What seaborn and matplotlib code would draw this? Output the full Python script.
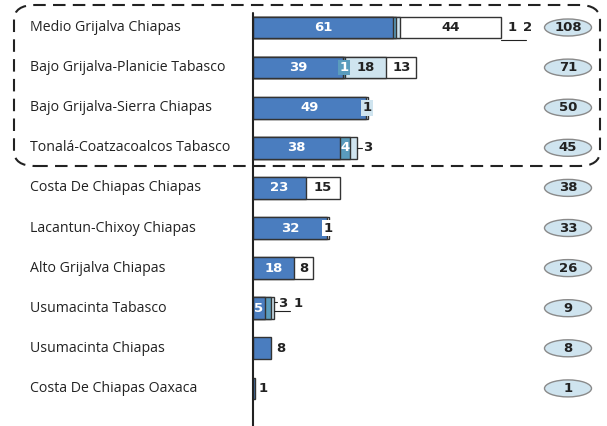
import matplotlib
matplotlib.use("Agg")
import matplotlib.pyplot as plt
import seaborn as sns
import pandas as pd
import numpy as np
from matplotlib.patches import Ellipse, FancyBboxPatch

categories = ["Medio Grijalva Chiapas", "Bajo Grijalva-Planicie Tabasco",
              "Bajo Grijalva-Sierra Chiapas", "Tonalá-Coatzacoalcos Tabasco",
              "Costa De Chiapas Chiapas", "Lacantun-Chixoy Chiapas",
              "Alto Grijalva Chiapas", "Usumacinta Tabasco",
              "Usumacinta Chiapas", "Costa De Chiapas Oaxaca"]
seg_blue = [61, 39, 49, 38, 23, 32, 18, 5, 8, 1]
seg_teal = [1, 1, 0, 4, 0, 0, 0, 3, 0, 0]
seg_light = [2, 18, 1, 3, 0, 0, 0, 1, 0, 0]
seg_white = [44, 13, 0, 0, 15, 1, 8, 0, 0, 0]
totals = [108, 71, 50, 45, 38, 33, 26, 9, 8, 1]

colors = ["#4a7dbf", "#5a9cbd", "#cfe4ef", "#ffffff"]
series = [seg_blue, seg_teal, seg_light, seg_white]
edge = "#333333"

W, H = 607, 426
fig = plt.figure(figsize=(W / 100, H / 100), dpi=100)
ax = fig.add_axes([0, 0, 1, 1])
sns.set_style("white")

x0 = 253.0
ppu = 2.3
y0, dy = 27.5, 40.1

def px2x(p):
    return (p - x0) / ppu

cum = np.cumsum(np.array(series), axis=0)
# draw from widest cumulative to narrowest so later bars sit on top
for k in range(len(series) - 1, -1, -1):
    mask = np.array(series[k]) > 0
    df = pd.DataFrame({"cat": categories, "val": np.where(mask, cum[k], 0.0)})
    sns.barplot(data=df, y="cat", x="val", orient="h", color=colors[k],
                saturation=1, width=0.54, edgecolor=edge, linewidth=1.0,
                ax=ax, order=categories)

ax.set_xlim(px2x(0), px2x(W))
ax.set_ylim((H - y0) / dy, -y0 / dy)
ax.axis("off")
ax.plot([0, 0], [-0.37, 10.0], color="#222222", lw=1.5, zorder=5, clip_on=False)

lab_font = "Open Sans"
num_kw = dict(fontsize=9.5, fontweight="bold", ha="center", va="center", zorder=10)
dark = "#222222"

for i, cat in enumerate(categories):
    ax.text(px2x(30), i, cat, fontsize=10.2, family=lab_font, color=dark,
            ha="left", va="center")
    ax.add_patch(Ellipse((px2x(568), i), 47 / ppu, 17 / dy, facecolor="#cfe4ef",
                         edgecolor="#8a8a8a", lw=1.0, zorder=6))
    ax.text(px2x(568), i, str(totals[i]), fontsize=9.5, fontweight="bold",
            color=dark, ha="center", va="center", zorder=7)

def inside(i, k, text_color, box=None):
    v = series[k][i]
    start = cum[k][i] - v
    kw = dict(num_kw)
    if box is not None:
        kw["bbox"] = dict(boxstyle="square,pad=0.1", fc=box, ec="none")
    ax.text(start + v / 2, i, str(v), color=text_color, **kw)

for i in range(len(categories)):
    if seg_blue[i] >= 10:
        inside(i, 0, "white")
    if seg_white[i] >= 8:
        inside(i, 3, dark)
    if seg_light[i] >= 10:
        inside(i, 2, dark)

inside(1, 1, "white", box=colors[1])
inside(2, 2, dark, box=colors[2])
inside(3, 1, "white")
inside(5, 3, dark, box="white")
inside(7, 0, "white")

# Medio Grijalva: teal 1, light 2 outside with leaders
e = cum[3][0]
ax.text(px2x(512), 0, str(seg_teal[0]), color=dark, **num_kw)
ax.text(px2x(528), 0, str(seg_light[0]), color=dark, **num_kw)
ax.plot([e, px2x(526)], [0.3, 0.3], color=dark, lw=0.8)
# Tonala: light 3
e = cum[2][3]
ax.plot([e, px2x(362)], [3, 3], color=dark, lw=0.8)
ax.text(px2x(368), 3, str(seg_light[3]), color=dark, **num_kw)
# Usumacinta Tabasco: teal 3, light 1
e = cum[2][7]
ax.plot([e, px2x(277)], [7 - 0.16, 7 - 0.16], color=dark, lw=0.8)
ax.text(px2x(283), 7 - 0.12, str(seg_teal[7]), color=dark, **num_kw)
ax.text(px2x(298), 7 - 0.12, str(seg_light[7]), color=dark, **num_kw)
ax.plot([e, px2x(290)], [7.06, 7.06], color=dark, lw=0.8)
# Usumacinta Chiapas, Costa Oaxaca
ax.text(cum[0][8] + 8 / ppu + 0.5, 8, str(seg_blue[8]), color=dark, **num_kw)
ax.text(cum[0][9] + 8 / ppu, 9, str(seg_blue[9]), color=dark, **num_kw)

# dashed rounded box
box = FancyBboxPatch((14 / W, 1 - 166 / H), (600 - 14) / W, (166 - 5) / H,
                     boxstyle="round,pad=0,rounding_size=0.035",
                     transform=fig.transFigure, fill=False, edgecolor=dark,
                     lw=1.5, linestyle=(0, (6, 3.5)), zorder=20)
fig.patches.append(box)

fig.savefig("out.png", dpi=100)
